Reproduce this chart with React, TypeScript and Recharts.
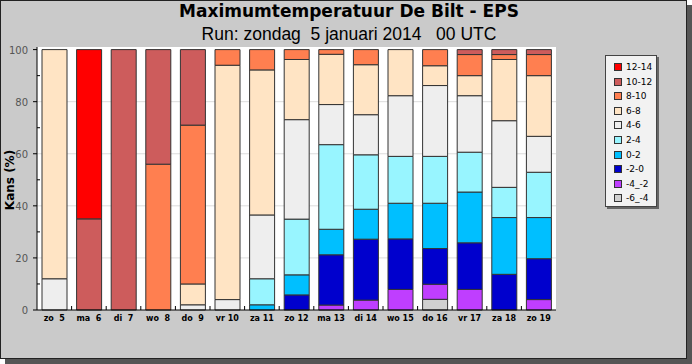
import React from "react";
import { BarChart, Bar, XAxis, YAxis, CartesianGrid } from "recharts";

const days = ["zo  5", "ma  6", "di  7", "wo  8", "do  9", "vr 10", "za 11", "zo 12", "ma 13", "di 14", "wo 15", "do 16", "vr 17", "za 18", "zo 19"];

// kans (%) per temperatuurklasse, onderste klasse eerst
const t_6_4 = [0, 0, 0, 0, 0, 0, 0, 0, 0, 0, 0, 4.1, 0, 0, 0];
const t_4_2 = [0, 0, 0, 0, 0, 0, 0, 0, 1.9, 3.8, 7.9, 5.8, 7.9, 0, 4];
const t_2_0 = [0, 0, 0, 0, 0, 0, 0, 5.8, 19.3, 23.4, 19.4, 13.7, 17.9, 13.7, 15.7];
const t0_2 = [0, 0, 0, 0, 0, 0, 2, 7.7, 9.8, 11.5, 13.7, 17.4, 19.5, 21.8, 15.8];
const t2_4 = [0, 0, 0, 0, 0, 0, 10, 21.4, 32.5, 20.9, 18, 18, 15.3, 11.6, 17.4];
const t4_6 = [12, 0, 0, 0, 2, 4, 24.5, 38.2, 15.4, 15.4, 23.3, 27.2, 21.7, 25.6, 13.8];
const t6_8 = [88, 0, 0, 0, 8, 90, 55.7, 23.1, 19.3, 19.2, 17.7, 7.6, 7.7, 23.5, 23.3];
const t8_10 = [0, 0, 0, 56, 61, 6, 7.8, 3.8, 1.8, 5.8, 0, 6.2, 8.1, 1.9, 8.1];
const t10_12 = [0, 35, 100, 44, 29, 0, 0, 0, 0, 0, 0, 0, 1.9, 1.9, 1.9];
const t12_14 = [0, 65, 0, 0, 0, 0, 0, 0, 0, 0, 0, 0, 0, 0, 0];

const classes = [
  { key: "m6", name: "-6_-4", values: t_6_4, color: "#d0d0d0" },
  { key: "m4", name: "-4_-2", values: t_4_2, color: "#bf3eff" },
  { key: "m2", name: "-2-0", values: t_2_0, color: "#0000cd" },
  { key: "p0", name: "0-2", values: t0_2, color: "#00bfff" },
  { key: "p2", name: "2-4", values: t2_4, color: "#98f5ff" },
  { key: "p4", name: "4-6", values: t4_6, color: "#eeeeee" },
  { key: "p6", name: "6-8", values: t6_8, color: "#ffe4c4" },
  { key: "p8", name: "8-10", values: t8_10, color: "#ff7f50" },
  { key: "p10", name: "10-12", values: t10_12, color: "#cd5c5c" },
  { key: "p12", name: "12-14", values: t12_14, color: "#ff0000" },
];

const yTicks = [0, 10, 20, 30, 40, 50, 60, 70, 80, 90, 100];

const data = days.map((day, i) => {
  const row: Record<string, string | number> = { day };
  classes.forEach((c) => (row[c.key] = c.values[i]));
  return row;
});

const font = "'DejaVu Sans', Verdana, sans-serif";
const BAND = (692 - 37 - 136) / days.length;

const YTick = (props: any) => {
  const { x, y, payload } = props;
  const major = payload.value % 20 === 0;
  return (
    <g>
      {major ? (
        <>
          <line x1={x - 4} x2={x} y1={y} y2={y} stroke="#000" />
          <text x={x - 9} y={y + 4} textAnchor="end" fontSize={10} fill="#555" fontFamily={font}>
            {payload.value}
          </text>
        </>
      ) : (
        <line x1={x} x2={x + 3} y1={y} y2={y} stroke="#000" />
      )}
    </g>
  );
};

const XTick = (props: any) => {
  const { x, y, payload, index } = props;
  return (
    <g>
      {index < days.length - 1 && <line x1={x + BAND / 2} x2={x + BAND / 2} y1={y - 4} y2={y} stroke="#000" />}
      <text x={x} y={y + 11} textAnchor="middle" fontSize={8} fontWeight="bold" fill="#000" fontFamily={font} style={{ whiteSpace: "pre" }}>
        {payload.value}
      </text>
    </g>
  );
};

export default function App() {
  return (
    <div style={{ position: "absolute", left: 0, top: 0, width: 692, height: 364, fontFamily: font }}>
      <div style={{ position: "absolute", left: 5, top: 5, width: 687, height: 359, background: "#555" }} />
      <div style={{ position: "absolute", left: 0, top: 0, width: 687, height: 359, boxSizing: "border-box", background: "#cacaca", border: "1px solid #222" }} />
      <div style={{ position: "absolute", left: 3, top: 1, width: 692, textAlign: "center", fontSize: 17, fontWeight: "bold", color: "#000" }}>
        Maximumtemperatuur De Bilt - EPS
      </div>
      <div style={{ position: "absolute", left: 3, top: 24, width: 692, textAlign: "center", fontSize: 17.5, fontFamily: "'Liberation Sans', Arial, sans-serif", color: "#000", whiteSpace: "pre" }}>
        {"Run: zondag  5 januari 2014   00 UTC"}
      </div>
      <div style={{ position: "absolute", left: 10, top: 180, transform: "translate(-50%, -50%) rotate(-90deg)", fontSize: 12, fontWeight: "bold", whiteSpace: "nowrap" }}>
        Kans (%)
      </div>
      <div style={{ position: "absolute", left: 0, top: 0 }}>
        <BarChart width={692} height={364} data={data} margin={{ top: 47, right: 136, bottom: 0, left: 0 }} barSize={25}>
          <CartesianGrid fill="#fff" vertical={false} horizontalValues={[20, 40, 60, 80]} stroke="#dcdcdc" />
          <XAxis dataKey="day" stroke="#000" tickSize={0} tickMargin={0} tick={<XTick />} interval={0} height={54} />
          <YAxis domain={[0, 101]} ticks={yTicks} stroke="#000" tickSize={0} tickMargin={0} tick={<YTick />} width={37} interval={0} />
          {classes.map((c) => (
            <Bar key={c.key} dataKey={c.key} name={c.name} stackId="a" fill={c.color} stroke="#333" strokeWidth={1} isAnimationActive={false} />
          ))}
        </BarChart>
      </div>
      <div style={{ position: "absolute", left: 607, top: 57, width: 52, height: 152, background: "#666" }} />
      <div style={{ position: "absolute", left: 605, top: 55, width: 52, height: 152, boxSizing: "border-box", background: "#f2f2f2", border: "1px solid #444" }}>
        {[...classes].reverse().map((c, i) => (
          <div key={c.key} style={{ position: "absolute", left: 8, top: 5 + i * 14.6, height: 12, display: "flex", alignItems: "center", fontSize: 9, color: "#000", whiteSpace: "nowrap" }}>
            <span style={{ display: "inline-block", width: 6, height: 6, background: c.color, border: "1px solid #333", marginRight: 4 }} />
            {c.name}
          </div>
        ))}
      </div>
    </div>
  );
}
